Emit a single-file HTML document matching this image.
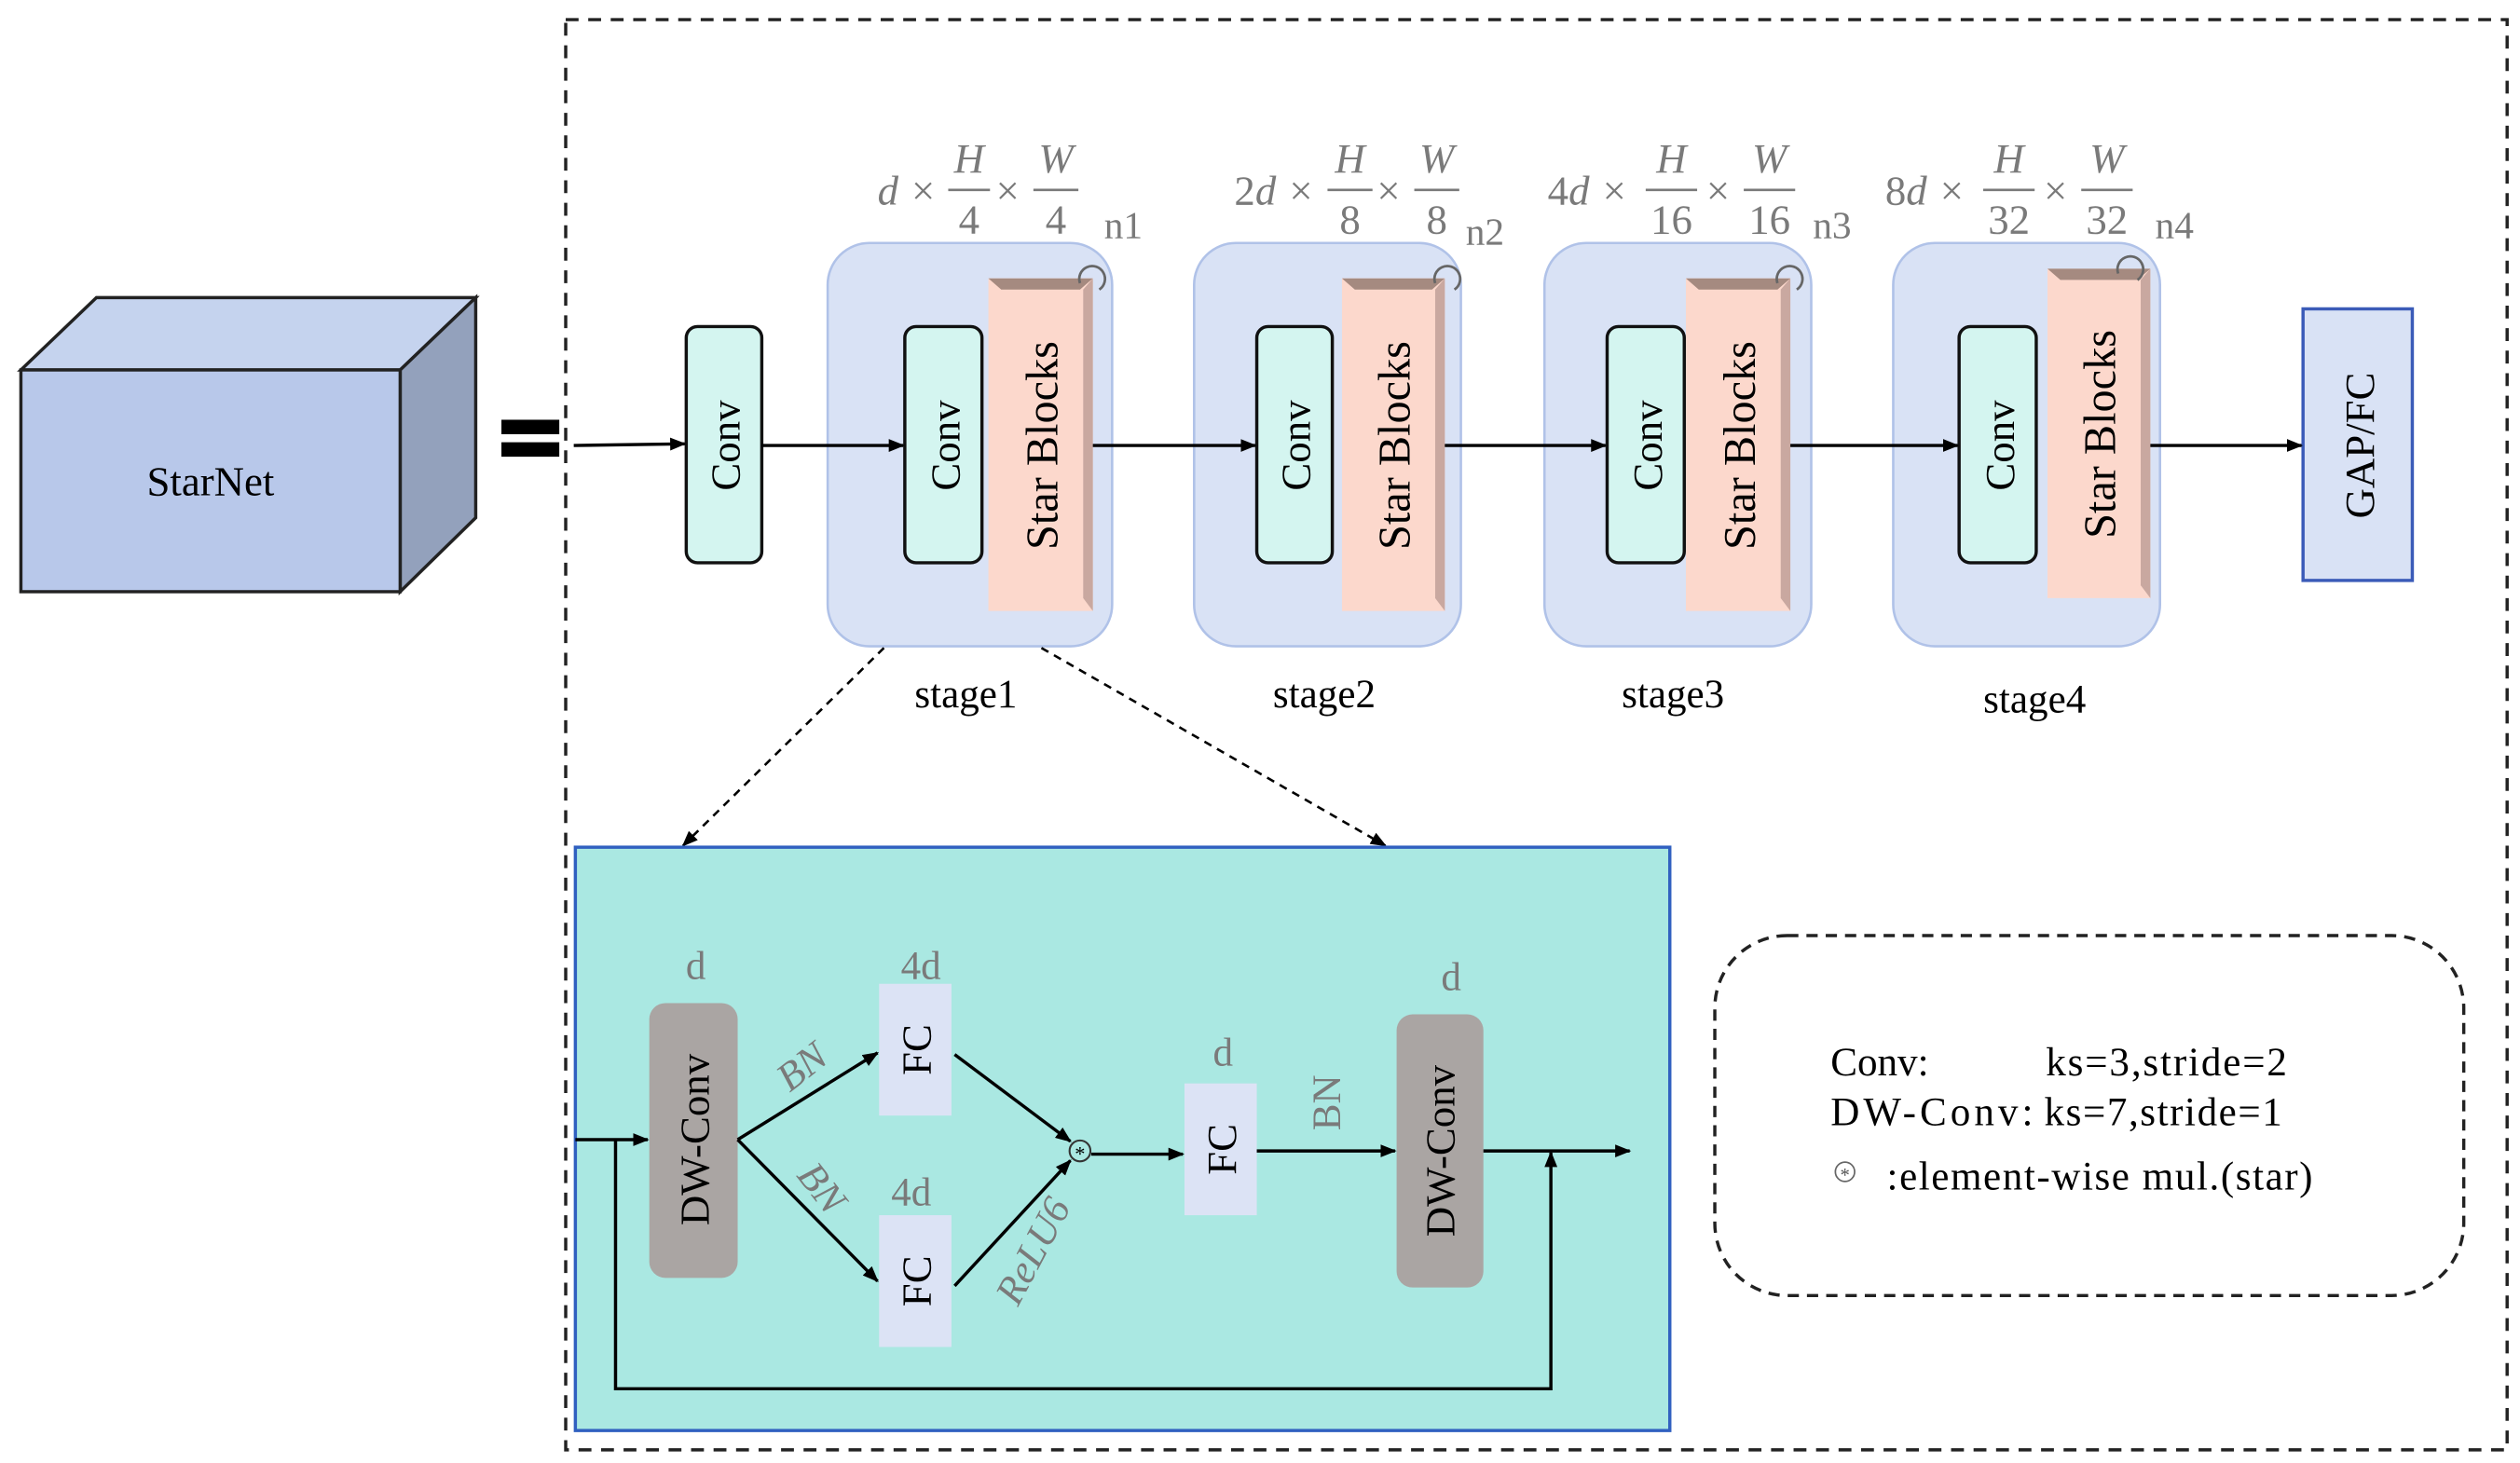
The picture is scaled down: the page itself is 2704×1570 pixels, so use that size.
<!DOCTYPE html>
<html><head><meta charset="utf-8"><style>
html,body{margin:0;padding:0;background:#fff;}
svg{display:block;font-family:"Liberation Serif","DejaVu Serif",serif;}
svg text{font-family:"Liberation Serif","DejaVu Serif",serif;}
</style></head><body>
<svg width="2704" height="1570" viewBox="0 0 1568 910" xmlns="http://www.w3.org/2000/svg" font-family="Liberation Serif, DejaVu Serif, serif">
<defs>
<marker id="ah" markerWidth="10" markerHeight="8" refX="9" refY="4" orient="auto" markerUnits="userSpaceOnUse"><path d="M0,0 L10,4 L0,8 z" fill="#000"/></marker>
</defs>
<rect width="1568" height="910" fill="#fff"/>
<polygon points="13,230 60,185 296,185 249,230" fill="#c5d3ee" stroke="#222" stroke-width="2"/>
<polygon points="249,230 296,185 296,322 249,368" fill="#93a1bc" stroke="#222" stroke-width="2"/>
<rect x="13" y="230" width="236" height="138" fill="#b8c8ea" stroke="#222" stroke-width="2"/>
<text x="131" y="308" font-size="26" text-anchor="middle">StarNet</text>
<rect x="312" y="261" width="36" height="9" fill="#000"/>
<rect x="312" y="275" width="36" height="9" fill="#000"/>
<rect x="352" y="12" width="1208" height="890" fill="none" stroke="#222" stroke-width="2" stroke-dasharray="8,6"/>
<rect x="515" y="151" width="177" height="251" rx="26" fill="#d9e2f5" stroke="#b0c2e8" stroke-width="1.5"/>
<rect x="743" y="151" width="166" height="251" rx="26" fill="#d9e2f5" stroke="#b0c2e8" stroke-width="1.5"/>
<rect x="961" y="151" width="166" height="251" rx="26" fill="#d9e2f5" stroke="#b0c2e8" stroke-width="1.5"/>
<rect x="1178" y="151" width="166" height="251" rx="26" fill="#d9e2f5" stroke="#b0c2e8" stroke-width="1.5"/>
<g fill="#d4f5f0" stroke="#111" stroke-width="2">
<rect x="427" y="203" width="47" height="147" rx="7"/>
<rect x="563" y="203" width="48" height="147" rx="7"/>
<rect x="782" y="203" width="47" height="147" rx="7"/>
<rect x="1000" y="203" width="48" height="147" rx="7"/>
<rect x="1219" y="203" width="48" height="147" rx="7"/>
</g>
<g font-size="26" text-anchor="middle">
<text transform="translate(460,277) rotate(-90)">Conv</text>
<text transform="translate(597,277) rotate(-90)">Conv</text>
<text transform="translate(815,277) rotate(-90)">Conv</text>
<text transform="translate(1034,277) rotate(-90)">Conv</text>
<text transform="translate(1253,277) rotate(-90)">Conv</text>
</g>
<g>
<rect x="615" y="173" width="65" height="207" fill="#fcd8cc"/>
<polygon points="615,173 680,173 672,180 623,180" fill="#a58a80"/>
<polygon points="680,173 680,380 674,372 674,180" fill="#c9a8a0"/>
<rect x="835" y="173" width="64" height="207" fill="#fcd8cc"/>
<polygon points="835,173 899,173 891,180 843,180" fill="#a58a80"/>
<polygon points="899,173 899,380 893,372 893,180" fill="#c9a8a0"/>
<rect x="1049" y="173" width="65" height="207" fill="#fcd8cc"/>
<polygon points="1049,173 1114,173 1106,180 1057,180" fill="#a58a80"/>
<polygon points="1114,173 1114,380 1108,372 1108,180" fill="#c9a8a0"/>
<rect x="1274" y="167" width="64" height="205" fill="#fcd8cc"/>
<polygon points="1274,167 1338,167 1330,174 1282,174" fill="#a58a80"/>
<polygon points="1338,167 1338,372 1332,364 1332,174" fill="#c9a8a0"/>
</g>
<g font-size="28" text-anchor="middle">
<text transform="translate(658,277) rotate(-90)">Star Blocks</text>
<text transform="translate(877,277) rotate(-90)">Star Blocks</text>
<text transform="translate(1092,277) rotate(-90)">Star Blocks</text>
<text transform="translate(1316,270) rotate(-90)">Star Blocks</text>
</g>
<g fill="none" stroke="#666" stroke-width="1.6">
<path d="M672,176 A8,8 0 1 1 684,180"/>
<path d="M893,176 A8,8 0 1 1 905,180"/>
<path d="M1106,176 A8,8 0 1 1 1118,180"/>
<path d="M1318,170 A8,8 0 1 1 1330,174"/>
</g>
<rect x="1433" y="192" width="68" height="169" fill="#d9e2f5" stroke="#3b5bb8" stroke-width="2"/>
<text transform="translate(1477,277) rotate(-90)" font-size="26" text-anchor="middle">GAP/FC</text>
<g stroke="#000" stroke-width="2" marker-end="url(#ah)">
<line x1="357" y1="277" x2="426" y2="276"/>
<line x1="474" y1="277" x2="562" y2="277"/>
<line x1="680" y1="277" x2="781" y2="277"/>
<line x1="899" y1="277" x2="999" y2="277"/>
<line x1="1114" y1="277" x2="1218" y2="277"/>
<line x1="1338" y1="277" x2="1432" y2="277"/>
</g>
<g fill="#7a7a7a" font-size="26" font-style="italic">
<text x="546" y="127">d ×</text><text x="603" y="107" text-anchor="middle">H</text><text x="603" y="145" text-anchor="middle" font-style="normal">4</text><text x="618" y="127">×</text><text x="657" y="107" text-anchor="middle">W</text><text x="657" y="145" text-anchor="middle" font-style="normal">4</text>
<text x="768" y="127"><tspan font-style="normal">2</tspan>d ×</text><text x="840" y="107" text-anchor="middle">H</text><text x="840" y="145" text-anchor="middle" font-style="normal">8</text><text x="855" y="127">×</text><text x="894" y="107" text-anchor="middle">W</text><text x="894" y="145" text-anchor="middle" font-style="normal">8</text>
<text x="963" y="127"><tspan font-style="normal">4</tspan>d ×</text><text x="1040" y="107" text-anchor="middle">H</text><text x="1040" y="145" text-anchor="middle" font-style="normal">16</text><text x="1060" y="127">×</text><text x="1101" y="107" text-anchor="middle">W</text><text x="1101" y="145" text-anchor="middle" font-style="normal">16</text>
<text x="1173" y="127"><tspan font-style="normal">8</tspan>d ×</text><text x="1250" y="107" text-anchor="middle">H</text><text x="1250" y="145" text-anchor="middle" font-style="normal">32</text><text x="1270" y="127">×</text><text x="1311" y="107" text-anchor="middle">W</text><text x="1311" y="145" text-anchor="middle" font-style="normal">32</text>
</g>
<g stroke="#7a7a7a" stroke-width="1.5">
<line x1="590" y1="118" x2="616" y2="118"/><line x1="643" y1="118" x2="671" y2="118"/>
<line x1="826" y1="118" x2="854" y2="118"/><line x1="880" y1="118" x2="908" y2="118"/>
<line x1="1024" y1="118" x2="1056" y2="118"/><line x1="1085" y1="118" x2="1117" y2="118"/>
<line x1="1234" y1="118" x2="1266" y2="118"/><line x1="1295" y1="118" x2="1327" y2="118"/>
</g>
<g fill="#7a7a7a" font-size="24">
<text x="687" y="148">n1</text><text x="912" y="152">n2</text><text x="1128" y="148">n3</text><text x="1341" y="148">n4</text>
</g>
<g font-size="25" text-anchor="middle">
<text x="601" y="440">stage1</text><text x="824" y="440">stage2</text><text x="1041" y="440">stage3</text><text x="1266" y="443">stage4</text>
</g>
<g stroke="#000" stroke-width="1.5" stroke-dasharray="5,4" marker-end="url(#ah)">
<line x1="550" y1="403" x2="425" y2="526"/>
<line x1="648" y1="403" x2="862" y2="526"/>
</g>
<rect x="358" y="527" width="681" height="363" fill="#aae8e2" stroke="#3060c0" stroke-width="2"/>
<rect x="404" y="624" width="55" height="171" rx="10" fill="#aaa5a3"/>
<rect x="869" y="631" width="54" height="170" rx="10" fill="#aaa5a3"/>
<rect x="547" y="612" width="45" height="82" fill="#dce3f5"/>
<rect x="547" y="756" width="45" height="82" fill="#dce3f5"/>
<rect x="737" y="674" width="45" height="82" fill="#dce3f5"/>
<g font-size="26" text-anchor="middle">
<text transform="translate(441,709) rotate(-90)">DW-Conv</text>
<text transform="translate(905,716) rotate(-90)">DW-Conv</text>
<text transform="translate(579,653) rotate(-90)">FC</text>
<text transform="translate(579,797) rotate(-90)">FC</text>
<text transform="translate(769,715) rotate(-90)">FC</text>
</g>
<g fill="#7a7a7a" font-size="25" text-anchor="middle">
<text x="433" y="609">d</text><text x="573" y="609">4d</text><text x="567" y="750">4d</text><text x="761" y="663">d</text><text x="903" y="616">d</text>
<text transform="translate(504,670) rotate(-38)" font-style="italic">BN</text>
<text transform="translate(505,744) rotate(52)" font-style="italic">BN</text>
<text transform="translate(650,782) rotate(-62)" font-style="italic">ReLU6</text>
<text transform="translate(834,686) rotate(-90)">BN</text>
</g>
<g stroke="#000" stroke-width="2" fill="none">
<line x1="358" y1="709" x2="403" y2="709" marker-end="url(#ah)"/>
<polyline points="383,709 383,864 965,864 965,717" marker-end="url(#ah)"/>
<line x1="923" y1="716" x2="1014" y2="716" marker-end="url(#ah)"/>
<line x1="459" y1="709" x2="546" y2="655" marker-end="url(#ah)"/>
<line x1="459" y1="709" x2="546" y2="797" marker-end="url(#ah)"/>
<line x1="594" y1="656" x2="666" y2="710" marker-end="url(#ah)"/>
<line x1="594" y1="800" x2="666" y2="722" marker-end="url(#ah)"/>
<line x1="679" y1="718" x2="736" y2="718" marker-end="url(#ah)"/>
<line x1="782" y1="716" x2="868" y2="716" marker-end="url(#ah)"/>
</g>
<circle cx="672" cy="716" r="6.5" fill="#aae8e2" stroke="#333" stroke-width="1.2"/>
<text x="672" y="722" font-size="13" text-anchor="middle">*</text>
<rect x="1067" y="582" width="466" height="224" rx="45" fill="none" stroke="#222" stroke-width="2" stroke-dasharray="7,5"/>
<g font-size="25">
<text x="1139" y="669">Conv:</text><text x="1273" y="669" textLength="150">ks=3,stride=2</text>
<text x="1139" y="700" textLength="126">DW-Conv:</text><text x="1272" y="700" textLength="148">ks=7,stride=1</text>
<text x="1174" y="740" textLength="265">:element-wise mul.(star)</text>
</g>
<circle cx="1148" cy="729" r="6" fill="#fff" stroke="#666" stroke-width="1"/>
<text x="1148" y="735" font-size="12" text-anchor="middle" fill="#555">*</text>
</svg>
</body></html>
